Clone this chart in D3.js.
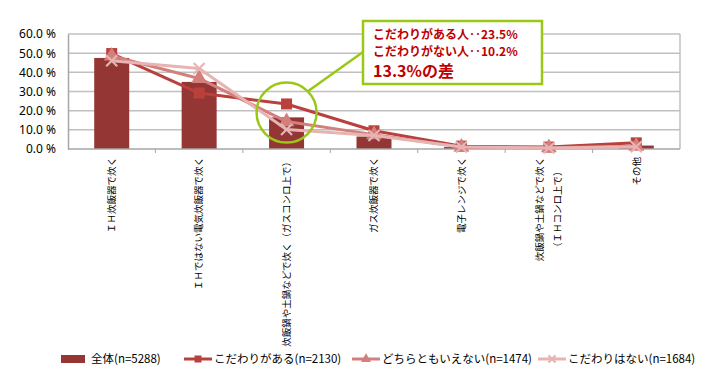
<!DOCTYPE html>
<html>
<head>
<meta charset="utf-8">
<script src="https://cdn.jsdelivr.net/npm/d3@7"></script>
<style>
  body { margin: 0; background: #fff; }
  svg { display: block; font-family: "Noto Sans CJK JP", "Noto Sans", sans-serif; }
</style>
</head>
<body>
<div id="chart"></div>
<script>
// categories and series
const categories = [
    "ＩＨ炊飯器で炊く",
    "ＩＨではない電気炊飯器で炊く",
    "炊飯鍋や土鍋などで炊く（ガスコンロ上で）",
    "ガス炊飯器で炊く",
    "電子レンジで炊く",
    "炊飯鍋や土鍋などで炊く\n（ＩＨコンロ上で）",
    "その他"
];
const totalValues = [47.5, 35.0, 16.5, 6.5, 1.0, 0.5, 1.8];
const kodawariAru = [49.8, 29.2, 23.5, 9.5, 1.5, 1.0, 3.2];
const dochiraMo = [48.5, 36.8, 14.3, 7.5, 1.0, 0.7, 1.5];
const kodawariNai = [46.0, 42.0, 10.2, 7.0, 1.0, 0.5, 1.2];
const yTicks = [0, 10, 20, 30, 40, 50, 60];
const legendLabels = ["全体(n=5288)", "こだわりがある(n=2130)", "どちらともいえない(n=1474)", "こだわりはない(n=1684)"];
const calloutLines = ["こだわりがある人‥23.5%", "こだわりがない人‥10.2%", "13.3%の差"];

const width = 710, height = 386;
const margin = { top: 34, right: 30, bottom: 237, left: 68 };
const plotWidth = width - margin.left - margin.right;
const plotHeight = height - margin.top - margin.bottom;

const svg = d3.select("#chart").append("svg")
    .attr("width", width)
    .attr("height", height);

const x = d3.scaleBand()
    .domain(d3.range(categories.length))
    .range([0, plotWidth]);

const y = d3.scaleLinear()
    .domain([0, 60])
    .range([plotHeight, 0]);

const g = svg.append("g")
    .attr("transform", `translate(${margin.left},${margin.top})`);

// gridlines
g.append("g")
    .selectAll("line")
    .data(yTicks.slice(1))
    .join("line")
    .attr("x1", 0)
    .attr("x2", plotWidth)
    .attr("y1", d => y(d))
    .attr("y2", d => y(d))
    .attr("stroke", "#c0c0c0")
    .attr("stroke-width", 1.5);

// plot area right border
g.append("line")
    .attr("x1", plotWidth).attr("x2", plotWidth)
    .attr("y1", 0).attr("y2", plotHeight)
    .attr("stroke", "#c0c0c0")
    .attr("stroke-width", 1.5);

// y axis
const yAxis = d3.axisLeft(y)
    .tickValues(yTicks)
    .tickSize(0)
    .tickPadding(12)
    .tickFormat(d => d.toFixed(1) + " %");

g.append("g")
    .call(yAxis)
    .call(a => a.select(".domain").attr("stroke", "#a6a6a6").attr("stroke-width", 1.5))
    .selectAll("text")
    .style("font-family", "'Noto Sans', sans-serif")
    .style("font-size", "12px")
    .style("fill", "#000");

// bars
const barWidth = 35;
g.append("g")
    .selectAll("rect")
    .data(totalValues)
    .join("rect")
    .attr("x", (d, i) => x(i) + x.bandwidth() / 2 - barWidth / 2)
    .attr("y", d => y(d))
    .attr("width", barWidth)
    .attr("height", d => plotHeight - y(d))
    .attr("fill", "#943634");

// x axis line and ticks
g.append("line")
    .attr("x1", 0).attr("x2", plotWidth)
    .attr("y1", plotHeight).attr("y2", plotHeight)
    .attr("stroke", "#a6a6a6")
    .attr("stroke-width", 1.5);

g.append("g")
    .selectAll("line")
    .data(d3.range(1, categories.length))
    .join("line")
    .attr("x1", d => x(d)).attr("x2", d => x(d))
    .attr("y1", plotHeight).attr("y2", plotHeight + 4)
    .attr("stroke", "#a6a6a6");

// category labels, vertical
const labelGroup = g.append("g")
    .style("font-size", "9.5px")
    .style("fill", "#000");

categories.forEach((c, i) => {
    const lines = c.split("\n");
    const cx = x(i) + x.bandwidth() / 2;
    const t = labelGroup.append("text")
        .attr("transform", `translate(${cx},${plotHeight + 8}) rotate(-90)`)
        .attr("text-anchor", "end");
    const spacing = 18;
    lines.forEach((line, j) => {
        t.append("tspan")
            .attr("x", 0)
            .attr("y", (j - (lines.length - 1) / 2) * spacing)
            .attr("dy", "0.35em")
            .text(line);
    });
    if (lines.length > 1) {
        // centre the second line against the first
        const spans = t.selectAll("tspan").nodes();
        const w0 = spans[0].getComputedTextLength();
        const w1 = spans[1].getComputedTextLength();
        d3.select(spans[1]).attr("x", -(w0 - w1) / 2);
    }
});

// series lines
const line = d3.line()
    .x((d, i) => x(i) + x.bandwidth() / 2)
    .y(d => y(d));

const series = [
    { name: legendLabels[1], values: kodawariAru, color: "#b9403d", marker: "square" },
    { name: legendLabels[2], values: dochiraMo, color: "#d47f7c", marker: "triangle" },
    { name: legendLabels[3], values: kodawariNai, color: "#e6b4b3", marker: "cross" }
];

function drawMarker(sel, type, color, size) {
    if (type === "square") {
        sel.append("rect")
            .attr("x", -size / 2).attr("y", -size / 2)
            .attr("width", size).attr("height", size)
            .attr("fill", color);
    } else if (type === "triangle") {
        sel.append("path")
            .attr("d", d3.symbol(d3.symbolTriangle, size * size * 0.9)())
            .attr("fill", color);
    } else {
        const h = size / 2;
        sel.append("path")
            .attr("d", `M${-h},${-h}L${h},${h}M${-h},${h}L${h},${-h}`)
            .attr("stroke", color)
            .attr("stroke-width", 2.2)
            .attr("fill", "none");
    }
}

series.forEach(s => {
    g.append("path")
        .datum(s.values)
        .attr("d", line)
        .attr("fill", "none")
        .attr("stroke", s.color)
        .attr("stroke-width", 3)
        .attr("stroke-linejoin", "round");

    g.append("g")
        .selectAll("g")
        .data(s.values)
        .join("g")
        .attr("transform", (d, i) => `translate(${x(i) + x.bandwidth() / 2},${y(d)})`)
        .each(function () { drawMarker(d3.select(this), s.marker, s.color, 11); });
});

// callout: circle around the third category
const calloutGreen = "#9ac814";
const circleX = x(2) + x.bandwidth() / 2;
const circleY = y(19);
g.append("circle")
    .attr("cx", circleX)
    .attr("cy", circleY)
    .attr("r", 30)
    .attr("fill", "none")
    .attr("stroke", calloutGreen)
    .attr("stroke-width", 2.5);

const boxX = 363 - margin.left, boxY = 21 - margin.top, boxW = 179, boxH = 63;
g.append("line")
    .attr("x1", circleX + 21).attr("y1", circleY - 21)
    .attr("x2", boxX).attr("y2", boxY + 31)
    .attr("stroke", calloutGreen)
    .attr("stroke-width", 2.5);

g.append("rect")
    .attr("x", boxX).attr("y", boxY)
    .attr("width", boxW).attr("height", boxH)
    .attr("fill", "#fff")
    .attr("stroke", calloutGreen)
    .attr("stroke-width", 2.5);

const calloutText = g.append("text")
    .attr("fill", "#c00000")
    .style("font-weight", "bold");
calloutLines.forEach((t, i) => {
    calloutText.append("tspan")
        .attr("x", boxX + 10)
        .attr("y", boxY + [18, 35, 56][i])
        .style("font-size", i === 2 ? "16px" : "12px")
        .text(t);
});

// legend
const legend = svg.append("g")
    .attr("transform", "translate(0,359)")
    .style("font-size", "11.5px");

legend.append("rect")
    .attr("x", 61).attr("y", -4)
    .attr("width", 24).attr("height", 8)
    .attr("fill", "#943634");
legend.append("text")
    .attr("x", 91).attr("y", 0).attr("dy", "0.35em")
    .text(legendLabels[0]);

const legendX = [184, 352, 538];
series.forEach((s, i) => {
    const lg = legend.append("g").attr("transform", `translate(${legendX[i]},0)`);
    lg.append("line")
        .attr("x1", 0).attr("x2", 28)
        .attr("stroke", s.color)
        .attr("stroke-width", 3);
    const m = lg.append("g").attr("transform", "translate(14,0)");
    drawMarker(m, s.marker, s.color, 7);
    lg.append("text")
        .attr("x", 30).attr("y", 0).attr("dy", "0.35em")
        .text(s.name);
});
</script>
</body>
</html>
